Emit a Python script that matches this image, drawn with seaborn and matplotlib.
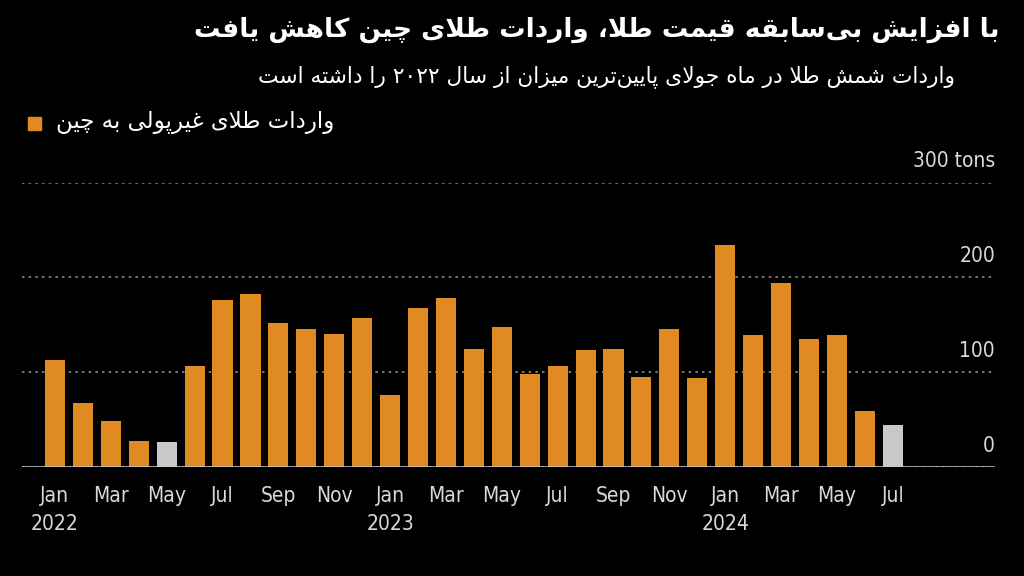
import itertools
import pandas as pd
import matplotlib
matplotlib.use("Agg")
import matplotlib.pyplot as plt
import matplotlib.patches as mpatches
import matplotlib.transforms as mtransforms
import seaborn as sns

# ---- data ----
months = ["Jan", "Feb", "Mar", "Apr", "May", "Jun", "Jul", "Aug", "Sep", "Oct", "Nov", "Dec"]
years = [2022, 2023, 2024]
imports_tons = [113, 67, 49, 27, 26, 106, 176, 182, 152, 145, 140, 157,
                76, 168, 178, 124, 148, 98, 107, 123, 124, 95, 146, 94,
                234, 139, 194, 135, 139, 59, 44]
gray_months = ["May 2022", "Jul 2024"]
y_ticks = [0, 100, 200, 300]

title = "با افزایش بی\u200cسابقه قیمت طلا، واردات طلای چین کاهش یافت"
subtitle = "واردات شمش طلا در ماه جولای پایین\u200cترین میزان از سال ۲۰۲۲ را داشته است"
legend_label = "واردات طلای غیرپولی به چین"

ORANGE = "#E08A24"
GRAY = "#C8C8C8"

# ---- minimal Persian shaping (matplotlib has no text shaping) ----
FORMS = {
    "\u0627": ("\uFE8D", "\uFE8E", None, None),
    "\u062F": ("\uFEA9", "\uFEAA", None, None),
    "\u0630": ("\uFEAB", "\uFEAC", None, None),
    "\u0631": ("\uFEAD", "\uFEAE", None, None),
    "\u0632": ("\uFEAF", "\uFEB0", None, None),
    "\u0698": ("\uFB8A", "\uFB8B", None, None),
    "\u0648": ("\uFEED", "\uFEEE", None, None),
    "\u0628": ("\uFE8F", "\uFE90", "\uFE91", "\uFE92"),
    "\u067E": ("\uFB56", "\uFB57", "\uFB58", "\uFB59"),
    "\u062A": ("\uFE95", "\uFE96", "\uFE97", "\uFE98"),
    "\u062C": ("\uFE9D", "\uFE9E", "\uFE9F", "\uFEA0"),
    "\u0686": ("\uFB7A", "\uFB7B", "\uFB7C", "\uFB7D"),
    "\u062D": ("\uFEA1", "\uFEA2", "\uFEA3", "\uFEA4"),
    "\u062E": ("\uFEA5", "\uFEA6", "\uFEA7", "\uFEA8"),
    "\u0633": ("\uFEB1", "\uFEB2", "\uFEB3", "\uFEB4"),
    "\u0634": ("\uFEB5", "\uFEB6", "\uFEB7", "\uFEB8"),
    "\u0637": ("\uFEC1", "\uFEC2", "\uFEC3", "\uFEC4"),
    "\u0639": ("\uFEC9", "\uFECA", "\uFECB", "\uFECC"),
    "\u063A": ("\uFECD", "\uFECE", "\uFECF", "\uFED0"),
    "\u0641": ("\uFED1", "\uFED2", "\uFED3", "\uFED4"),
    "\u0642": ("\uFED5", "\uFED6", "\uFED7", "\uFED8"),
    "\u06A9": ("\uFB8E", "\uFB8F", "\uFB90", "\uFB91"),
    "\u06AF": ("\uFB92", "\uFB93", "\uFB94", "\uFB95"),
    "\u0644": ("\uFEDD", "\uFEDE", "\uFEDF", "\uFEE0"),
    "\u0645": ("\uFEE1", "\uFEE2", "\uFEE3", "\uFEE4"),
    "\u0646": ("\uFEE5", "\uFEE6", "\uFEE7", "\uFEE8"),
    "\u0647": ("\uFEE9", "\uFEEA", "\uFEEB", "\uFEEC"),
    "\u06CC": ("\uFBFC", "\uFBFD", "\uFBFE", "\uFBFF"),
}


def joins_left(c):
    return c in FORMS and FORMS[c][2] is not None


def shape(text):
    out = []
    i = 0
    n = len(text)
    while i < n:
        c = text[i]
        prev = text[i - 1] if i > 0 else ""
        nxt = text[i + 1] if i + 1 < n else ""
        if c not in FORMS:
            if c != "\u200c":
                out.append(c)
            i += 1
            continue
        before = joins_left(prev)
        if c == "\u0644" and nxt == "\u0627":
            out.append("\uFEFC" if before else "\uFEFB")
            i += 2
            continue
        after = joins_left(c) and nxt in FORMS
        iso, fin, ini, med = FORMS[c]
        if before and after:
            out.append(med)
        elif before:
            out.append(fin)
        elif after:
            out.append(ini)
        else:
            out.append(iso)
        i += 1
    # visual order: reverse, keeping digit runs left-to-right
    segs = []
    for is_digit, grp in itertools.groupby(out, key=lambda ch: ch.isdigit()):
        grp = list(grp)
        segs.append("".join(grp) if is_digit else "".join(reversed(grp)))
    return "".join(reversed(segs))


# ---- dataframe ----
labels = [f"{m} {y}" for y in years for m in months][:len(imports_tons)]
df = pd.DataFrame({"month": labels, "tons": imports_tons})
df["kind"] = ["gray" if m in gray_months else "orange" for m in df["month"]]

sns.set_style("dark")
plt.rcParams["font.family"] = ["DejaVu Sans"]

fig = plt.figure(figsize=(10.24, 5.76), dpi=100, facecolor="black")
ax = fig.add_axes([22 / 1024, 1 - 467 / 576, 973 / 1024, (467 - 182.5) / 576])
ax.set_facecolor("black")

sns.barplot(data=df, x="month", y="tons", hue="kind",
            palette={"orange": ORANGE, "gray": GRAY}, dodge=False,
            width=0.72, legend=False, saturation=1, linewidth=0,
            ax=ax, zorder=3)

ax.set_xlim(-1.18, 33.66)
ax.set_ylim(0, 300)

# grid / baseline
ax.set_yticks(y_ticks)
ax.set_yticklabels([])
ax.tick_params(axis="y", length=0)
ax.yaxis.grid(True, color="#8a8a8a", linestyle=(0, (1.5, 2.5)), linewidth=1.2)
ax.xaxis.grid(False)
ax.axhline(0, color="#c8c8c8", linewidth=1.8, zorder=4)
for s in ax.spines.values():
    s.set_visible(False)

# y labels on the right, above the gridlines
trans = mtransforms.blended_transform_factory(ax.transAxes, ax.transData)
for v in y_ticks:
    txt = f"{v} tons" if v == y_ticks[-1] else str(v)
    ax.annotate(txt, xy=(1.0, v), xycoords=trans, xytext=(0, 8),
                textcoords="offset points", ha="right", va="bottom",
                color="#d9d9d9", fontsize=15, fontstretch="condensed")

# x ticks every other month
pos = list(range(0, len(labels), 2))
xt = []
for p in pos:
    m, y = labels[p].split()
    xt.append(f"{m}\n{y}" if m == "Jan" else m)
ax.set_xticks(pos)
ax.set_xticklabels(xt, color="#d9d9d9", fontsize=15, linespacing=1.45,
                   fontstretch="condensed", va="top")
for lab in ax.get_xticklabels():
    lab.set_horizontalalignment("center")
ax.tick_params(axis="x", length=8, width=1.2, color="#c8c8c8", pad=6)
ax.set_xlabel("")
ax.set_ylabel("")

# titles and legend
fig.text(1000 / 1024, 1 - 30 / 576, shape(title), ha="right", va="center",
         color="white", fontsize=19, fontweight="bold")
fig.text(955 / 1024, 1 - 77 / 576, shape(subtitle), ha="right", va="center",
         color="white", fontsize=15.7)
fig.patches.append(mpatches.Rectangle((28 / 1024, 1 - 130 / 576), 13 / 1024, 13 / 576,
                                      transform=fig.transFigure, color=ORANGE))
fig.text(56 / 1024, 1 - 122 / 576, shape(legend_label), ha="left", va="center",
         color="white", fontsize=16.5)

fig.savefig("out.png", dpi=100, facecolor="black")
